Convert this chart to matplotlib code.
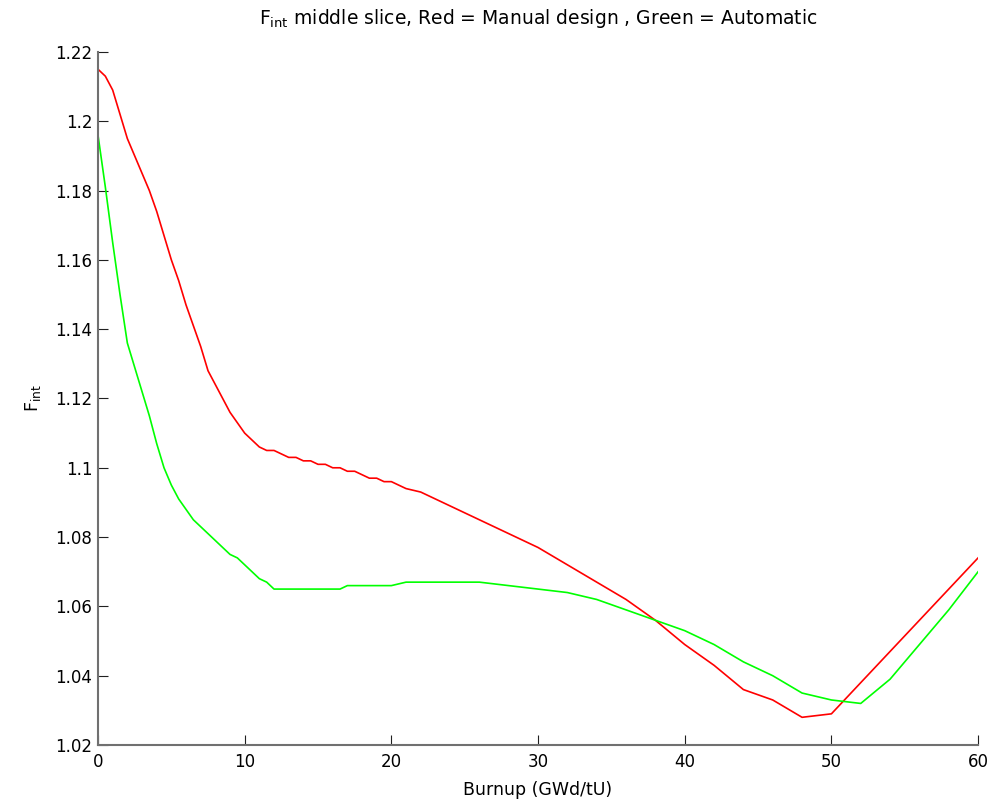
import matplotlib
matplotlib.use('Agg')
import matplotlib.pyplot as plt
from matplotlib.ticker import FuncFormatter

plt.rcParams['font.family'] = ['DejaVu Sans']
plt.rcParams['mathtext.fontset'] = 'dejavusans'

# burnup steps (GWd/tU)
burnup = [0, 0.5, 1, 1.5, 2, 2.5, 3, 3.5, 4, 4.5, 5, 5.5, 6, 6.5, 7, 7.5,
          8, 8.5, 9, 9.5, 10, 10.5, 11, 11.5, 12, 12.5, 13, 13.5, 14, 14.5,
          15, 15.5, 16, 16.5, 17, 17.5, 18, 18.5, 19, 19.5, 20, 21, 22, 24,
          26, 28, 30, 32, 34, 36, 38, 40, 42, 44, 46, 48, 50, 52, 54, 56,
          58, 60]

# Fint, manual design
fint_manual = [1.215, 1.213, 1.209, 1.202, 1.195, 1.190, 1.185, 1.180, 1.174,
               1.167, 1.160, 1.154, 1.147, 1.141, 1.135, 1.128, 1.124, 1.120,
               1.116, 1.113, 1.110, 1.108, 1.106, 1.105, 1.105, 1.104, 1.103,
               1.103, 1.102, 1.102, 1.101, 1.101, 1.100, 1.100, 1.099, 1.099,
               1.098, 1.097, 1.097, 1.096, 1.096, 1.094, 1.093, 1.089, 1.085,
               1.081, 1.077, 1.072, 1.067, 1.062, 1.056, 1.049, 1.043, 1.036,
               1.033, 1.028, 1.029, 1.038, 1.047, 1.056, 1.065, 1.074]

# Fint, automatic design
fint_auto = [1.196, 1.181, 1.165, 1.150, 1.136, 1.129, 1.122, 1.115, 1.107,
             1.100, 1.095, 1.091, 1.088, 1.085, 1.083, 1.081, 1.079, 1.077,
             1.075, 1.074, 1.072, 1.070, 1.068, 1.067, 1.065, 1.065, 1.065,
             1.065, 1.065, 1.065, 1.065, 1.065, 1.065, 1.065, 1.066, 1.066,
             1.066, 1.066, 1.066, 1.066, 1.066, 1.067, 1.067, 1.067, 1.067,
             1.066, 1.065, 1.064, 1.062, 1.059, 1.056, 1.053, 1.049, 1.044,
             1.040, 1.035, 1.033, 1.032, 1.039, 1.049, 1.059, 1.070]

fig = plt.figure(figsize=(9.95, 8.05), dpi=100)
ax = fig.add_axes([0.0985, 0.0745, 0.8845, 0.861])

ax.plot(burnup, fint_manual, color='#ff0000', lw=1.2)
ax.plot(burnup, fint_auto, color='#00ff00', lw=1.2)

ax.set_xlim(0, 60)
ax.set_ylim(1.02, 1.22)
ax.set_xticks(range(0, 61, 10))
ax.set_yticks([1.02 + 0.02 * i for i in range(11)])
ax.yaxis.set_major_formatter(FuncFormatter(lambda v, p: '%g' % round(v, 2)))

for side in ['top', 'right']:
    ax.spines[side].set_visible(False)
for side in ['left', 'bottom']:
    ax.spines[side].set_color('#707070')
    ax.spines[side].set_linewidth(1.5)
ax.tick_params(direction='in', length=7, width=0.8, color='#202020',
               labelsize=12, pad=6)
ax.tick_params(axis='y', pad=4)

ax.set_xlabel('Burnup (GWd/tU)', fontsize=12.5, labelpad=7)
ax.set_ylabel(r'F$_{\mathrm{int}}$', fontsize=12.5, labelpad=9)
ax.set_title(r'F$_{\mathrm{int}}$ middle slice, Red = Manual design , Green = Automatic',
             fontsize=13.5, pad=20)

fig.savefig('out.png', dpi=100, facecolor='white')
